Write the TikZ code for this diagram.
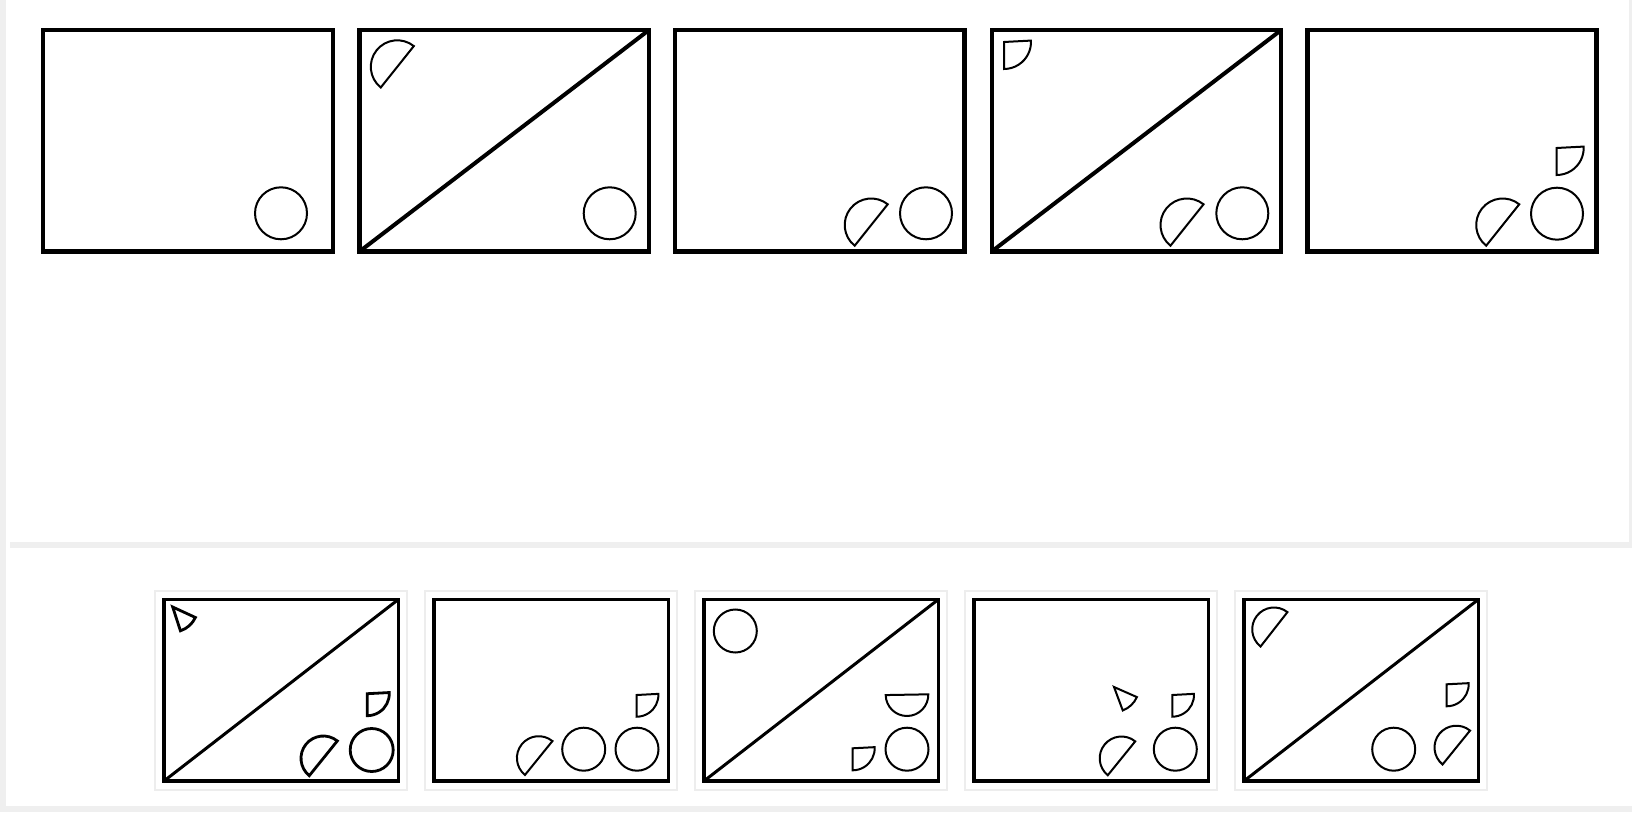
\documentclass[tikz,border=0pt]{standalone}
\usepackage{tikz}
\definecolor{bggrey}{HTML}{EFEFEF}
\definecolor{framegrey}{HTML}{EDEDED}
\tikzset{
  topbox/.style={draw=black,line width=4.4pt},
  botbox/.style={draw=black,line width=3.6pt},
  diagtop/.style={draw=black,line width=4pt},
  diagbot/.style={draw=black,line width=3pt},
  fig/.style={draw=black,line width=2pt,line join=miter},
  figbold/.style={draw=black,line width=2.8pt,line join=miter},
  pframe/.style={draw=framegrey,line width=2pt},
}
% half disc: x, y (screen), radius, diameter angle, style
\newcommand\hdsk[5]{\draw[#5] (#1,-#2) ++(#4:#3) arc[start angle=#4, delta angle=180, radius=#3] -- cycle;}
% quarter disc: corner x, y (screen), radius, style
\newcommand\qdsk[4]{\draw[#4] (#1,-#2) -- ++(3:#3) arc[start angle=3, end angle=-90, radius=#3] -- cycle;}
% pie slice: apex x, y, radius, start angle, end angle, style
\newcommand\psec[6]{\draw[#6] (#1,-#2) -- ++(#4:#3) arc[start angle=#4, end angle=#5, radius=#3] -- cycle;}
% circle
\newcommand\crc[4]{\draw[#4] (#1,-#2) circle[radius=#3];}
\begin{document}
\begin{tikzpicture}[x=1pt,y=1pt]
\useasboundingbox (0,0) rectangle (1632,812);
\fill[bggrey] (0,0) rectangle (1632,812);
\begin{scope}[shift={(0,812)}]
% white panels
\fill[white] (6,0) rectangle (1629,-542);
\fill[white] (6,-542) rectangle (1632,-806);
\fill[bggrey] (10,-542) rectangle (1632,-548);
\fill[white] (6,-548) rectangle (1632,-806);

% ---------- top row ----------
% box 1
\draw[topbox] (43,-30) rectangle (333,-251.5);
\crc{281}{213.3}{26}{fig}
% box 2
\draw[topbox] (359.5,-30) rectangle (649,-251.5);
\draw[diagtop] (359.5,-251.5) -- (649,-30);
\crc{609.7}{213.3}{26}{fig}
\hdsk{397.3}{66.8}{26.5}{51.4}{fig}
% box 3
\draw[topbox] (675,-30) rectangle (964.5,-251.5);
\crc{926}{213.3}{26}{fig}
\hdsk{871.2}{225}{26.5}{51.4}{fig}
% box 4
\draw[topbox] (991.7,-30) rectangle (1281.2,-251.5);
\draw[diagtop] (991.7,-251.5) -- (1281.2,-30);
\crc{1242.3}{213.3}{26}{fig}
\hdsk{1187}{225}{26.5}{51.4}{fig}
\qdsk{1004}{42}{27}{fig}
% box 5
\draw[topbox] (1307.5,-30) rectangle (1596.5,-251.5);
\crc{1557}{213.7}{26}{fig}
\hdsk{1502.7}{225}{26.5}{51.4}{fig}
\qdsk{1556.7}{148}{27}{fig}

% ---------- bottom row ----------
% frames
\draw[pframe] (155,-590.7) rectangle (407.3,-790.3);
\draw[pframe] (425,-590.7) rectangle (677.3,-789.5);
\draw[pframe] (695,-590.7) rectangle (947.3,-789.5);
\draw[pframe] (965,-590.7) rectangle (1217.3,-789.5);
\draw[pframe] (1235,-590.7) rectangle (1487.3,-789.5);
% panel 1
\draw[botbox] (164,-599.5) rectangle (398.3,-781);
\draw[diagbot] (164,-781) -- (398.3,-599.5);
\psec{172.7}{607}{25}{-24.8}{-72}{figbold}
\qdsk{367.3}{693.7}{22}{figbold}
\hdsk{323.3}{758.3}{22.3}{51.1}{figbold}
\crc{371.7}{750}{21.5}{figbold}
% panel 2
\draw[botbox] (434,-599.5) rectangle (668.3,-781);
\qdsk{636.7}{695}{21.7}{fig}
\hdsk{538.7}{758}{21.8}{51}{fig}
\crc{583.7}{749.2}{21.5}{fig}
\crc{637}{749.2}{21.5}{fig}
% panel 3
\draw[botbox] (704,-599.5) rectangle (938.3,-781);
\draw[diagbot] (704,-781) -- (938.3,-599.5);
\crc{735.3}{631}{21.5}{fig}
\hdsk{907}{694.7}{21.3}{181}{fig}
\crc{907}{749.2}{21.5}{fig}
\qdsk{852.7}{748.3}{22}{fig}
% panel 4
\draw[botbox] (974,-599.5) rectangle (1208.3,-781);
\psec{1114}{687}{25}{-23.8}{-69.5}{fig}
\qdsk{1172.3}{695}{21.7}{fig}
\hdsk{1121.5}{758.3}{21.8}{51}{fig}
\crc{1175.3}{749.2}{21.5}{fig}
% panel 5
\draw[botbox] (1244,-599.5) rectangle (1478.3,-781);
\draw[diagbot] (1244,-781) -- (1478.3,-599.5);
\hdsk{1274}{629.3}{21.8}{52}{fig}
\qdsk{1446.7}{684.3}{22}{fig}
\hdsk{1456.3}{747.5}{21.8}{51}{fig}
\crc{1393.7}{749.2}{21.5}{fig}
\end{scope}
\end{tikzpicture}
\end{document}
